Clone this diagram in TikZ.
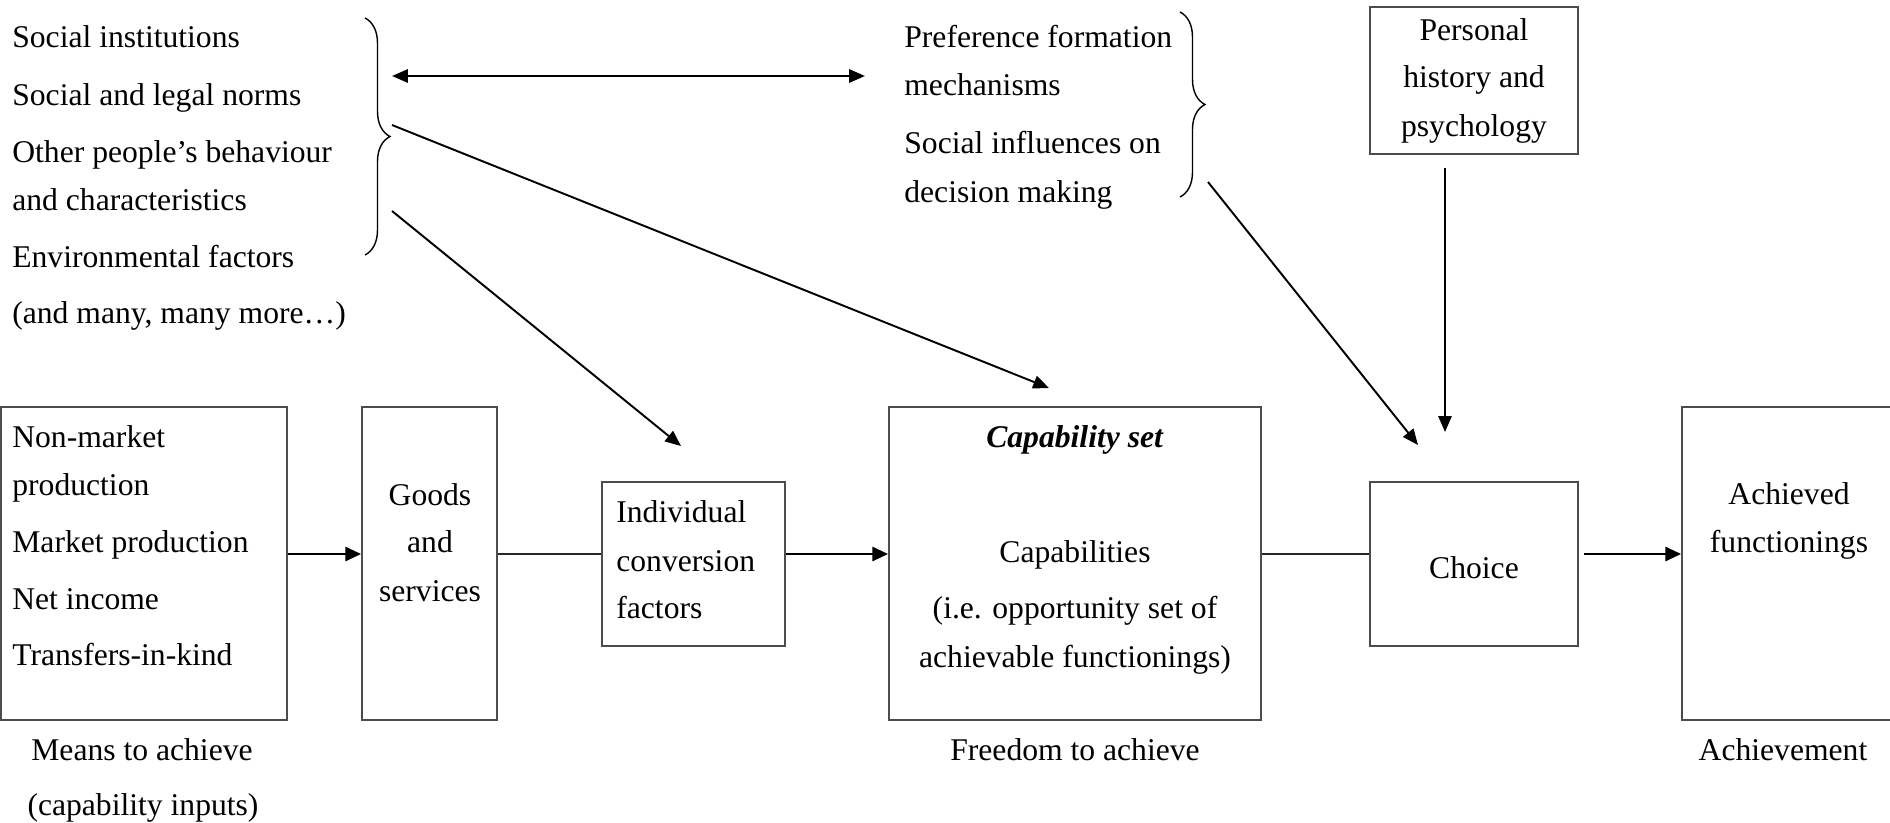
\documentclass[tikz,border=0pt]{standalone}
\usepackage{fontspec}
\setmainfont{Liberation Serif}
\usetikzlibrary{arrows.meta,decorations.pathreplacing}
\begin{document}
\begin{tikzpicture}[x=0.02cm,y=-0.02cm,
  every node/.style={font=\fontsize{18}{21}\selectfont, inner sep=0pt},
  lbl/.style={anchor=base west},
  ctr/.style={anchor=base},
  box/.style={draw=black!70, line width=1pt, minimum width=#1*0.02cm},
  tip/.style={},
  arr/.style={-{Triangle[length=9pt,width=7.5pt]}, line width=1.1pt},
  harr/.style={-{Triangle[length=9pt,width=8pt]}, line width=1.6pt},
  hline/.style={line width=1.6pt, draw=black!85},
  brc/.style={decorate, decoration={brace, amplitude=0.5cm}, line width=0.8pt}]
\useasboundingbox (0,0) rectangle (1890,822);

% boxes
\node[box=286, minimum height=313*0.02cm] (means) at (144,563.5) {};
\node[box=135, minimum height=313*0.02cm] (goods) at (429.5,563.5) {};
\node[box=183, minimum height=164*0.02cm] (conv) at (693.5,564) {};
\node[box=372, minimum height=313*0.02cm] (cap) at (1075,563.5) {};
\node[box=208, minimum height=164*0.02cm] (choice) at (1474,564) {};
\node[box=218, minimum height=313*0.02cm] (ach) at (1791,563.5) {};
\node[box=208, minimum height=147*0.02cm] (pers) at (1474,80.5) {};

% left column text
\node[lbl] (t1) at (12,47) {Social institutions};
\node[lbl] (t2) at (12,105) {Social and legal norms};
\node[lbl] (t3) at (12,162) {Other people’s behaviour};
\node[lbl] (t4) at (12,210) {and characteristics};
\node[lbl] (t5) at (12,267) {Environmental factors};
\node[lbl] (t6) at (12,323) {(and many, many more…)};

% preference text
\node[lbl] (p1) at (904,47) {Preference formation};
\node[lbl] (p2) at (904,95) {mechanisms};
\node[lbl] (p3) at (904,153) {Social influences on};
\node[lbl] (p4) at (904,202) {decision making};

% personal history
\node[ctr] (h1) at (1474,40) {Personal};
\node[ctr] (h2) at (1474,87) {history and};
\node[ctr] (h3) at (1474,136) {psychology};

% box texts
\node[lbl] (m1) at (12,447) {Non-market};
\node[lbl] (m2) at (12,495) {production};
\node[lbl] (m3) at (12,552) {Market production};
\node[lbl] (m4) at (12,609) {Net income};
\node[lbl] (m5) at (12,665) {Transfers-in-kind};

\node[ctr] (g1) at (430,505) {Goods};
\node[ctr] (g2) at (430,552) {and};
\node[ctr] (g3) at (430,601) {services};

\node[lbl] (c1) at (616,522) {Individual};
\node[lbl] (c2) at (616,571) {conversion};
\node[lbl] (c3) at (616,618) {factors};

\node[ctr] (k1) at (1075,447) {\textbf{\textit{Capability set}}};
\node[ctr] (k2) at (1075,562) {Capabilities};
\node[ctr] (k3) at (1075,618) {(i.e. opportunity set of};
\node[ctr] (k4) at (1075,667) {achievable functionings)};

\node[ctr] (ch) at (1474,578) {Choice};

\node[ctr] (a1) at (1789,504) {Achieved};
\node[ctr] (a2) at (1789,552) {functionings};

% bottom labels
\node[ctr] (l1) at (142,760) {Means to achieve};
\node[ctr] (l2) at (143,815) {(capability inputs)};
\node[ctr] (l3) at (1075,760) {Freedom to achieve};
\node[ctr] (l4) at (1783,760) {Achievement};

% braces
\draw[brc] (365,18) -- (365,255);
\draw[brc] (1180,12) -- (1180,197);

% coordinates
\coordinate (mid) at (0,554);
\coordinate (bL) at (392,76);
\coordinate (bR) at (865,76);
\coordinate (s1) at (392,125);
\coordinate (e1) at (1049,388);
\coordinate (s2) at (392,211);
\coordinate (e2) at (681,446);
\coordinate (s3) at (1208,182);
\coordinate (e3) at (1418,445);
\coordinate (s4) at (1445,168);
\coordinate (e4) at (1445,432);

% connectors
\draw[{Triangle[length=9pt,width=7.5pt]}-{Triangle[length=9pt,width=7.5pt]}, line width=1.3pt] (bL) -- (bR);
\draw[arr] (s1) -- (e1);
\draw[arr] (s2) -- (e2);
\draw[arr] (s3) -- (e3);
\draw[arr] (s4) -- (e4);

\draw[harr] (means.east |- mid) -- (goods.west |- mid);
\draw[hline] (goods.east |- mid) -- (conv.west |- mid);
\draw[harr] (conv.east |- mid) -- (cap.west |- mid);
\draw[hline] (cap.east |- mid) -- (choice.west |- mid);
\draw[harr] ([xshift=0.1cm]choice.east |- mid) -- (ach.west |- mid);
\end{tikzpicture}
\end{document}
